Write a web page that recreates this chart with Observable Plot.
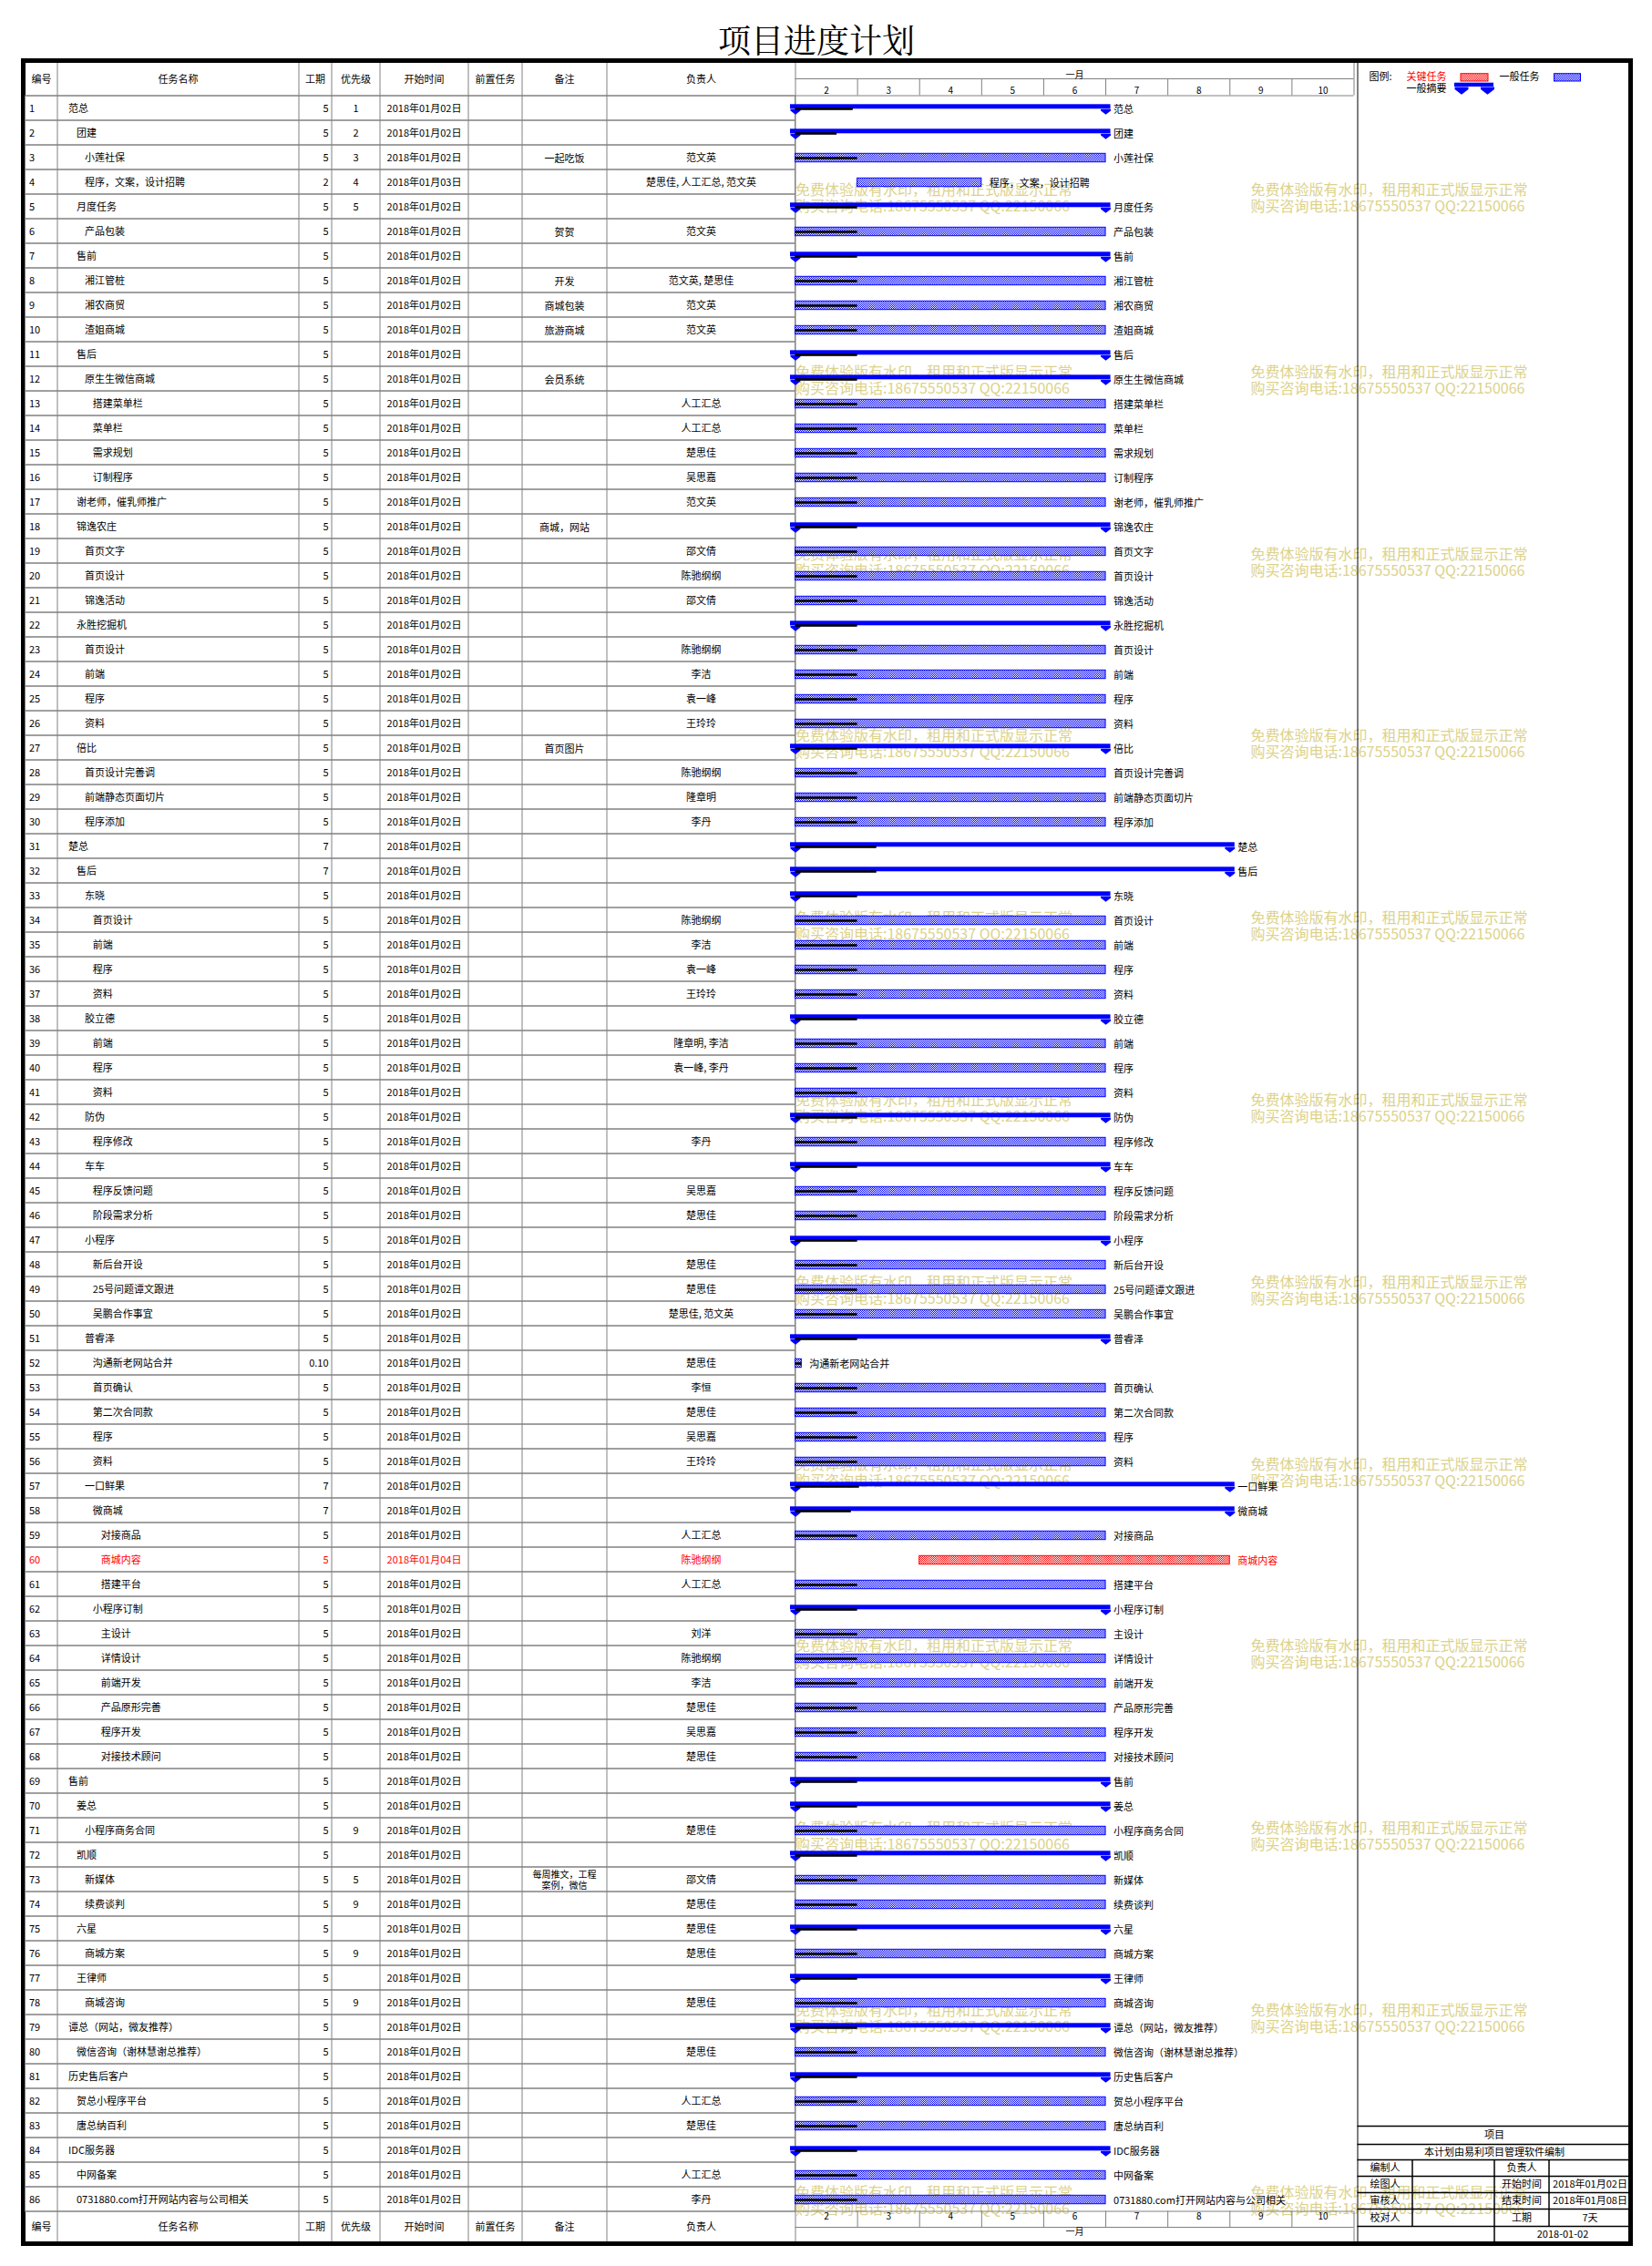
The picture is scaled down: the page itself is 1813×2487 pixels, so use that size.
<!DOCTYPE html>
<html><head><meta charset="utf-8">
<script src="https://cdn.jsdelivr.net/npm/d3@7"></script>
<script src="https://cdn.jsdelivr.net/npm/@observablehq/plot@0.6"></script>
<style>
body{margin:0;background:#fff;}
#page{position:relative;width:1813px;height:2487px;font-family:"Noto Sans CJK SC",sans-serif;}
#title{position:absolute;left:0;top:23px;width:1792px;text-align:center;font-size:36px;line-height:40px;font-family:"Noto Serif CJK SC","Noto Sans CJK SC",serif;color:#000;}
.layer{position:absolute;left:0;top:60px;width:1813px;height:2420px;}
.layer svg{background:transparent !important;max-width:none !important;}
</style></head>
<body><div id="page"><div id="title">项目进度计划</div><div id="base" class="layer"></div><div id="table" class="layer"></div><div id="gantt" class="layer"></div></div>
<script>
// ---------------- DATA ----------------
const taskNames = ["范总","团建","小莲社保","程序，文案，设计招聘","月度任务","产品包装","售前","湘江管桩","湘农商贸","渣姐商城",
"售后","原生生微信商城","搭建菜单栏","菜单栏","需求规划","订制程序","谢老师，催乳师推广","锦逸农庄","首页文字","首页设计",
"锦逸活动","永胜挖掘机","首页设计","前端","程序","资料","倍比","首页设计完善调","前端静态页面切片","程序添加",
"楚总","售后","东晓","首页设计","前端","程序","资料","胶立德","前端","程序",
"资料","防伪","程序修改","车车","程序反馈问题","阶段需求分析","小程序","新后台开设","25号问题谭文跟进","吴鹏合作事宜",
"普睿泽","沟通新老网站合并","首页确认","第二次合同款","程序","资料","一口鲜果","微商城","对接商品","商城内容",
"搭建平台","小程序订制","主设计","详情设计","前端开发","产品原形完善","程序开发","对接技术顾问","售前","姜总",
"小程序商务合同","凯顺","新媒体","续费谈判","六星","商城方案","王律师","商城咨询","谭总（网站，微友推荐）","微信咨询（谢林慧谢总推荐）",
"历史售后客户","贺总小程序平台","唐总纳百利","IDC服务器","中网备案","0731880.com打开网站内容与公司相关"];
const levels = [0,1,2,2,1,2,1,2,2,2, 1,2,3,3,3,3,1,1,2,2, 2,1,2,2,2,2,1,2,2,2, 0,1,2,3,3,3,3,2,3,3,
3,2,3,2,3,3,2,3,3,3, 2,3,3,3,3,3,2,3,4,4, 4,3,4,4,4,4,4,4,0,1, 2,1,2,2,1,2,1,2,0,1, 0,1,1,0,1,1];
const durations = [5,5,5,2,5,5,5,5,5,5, 5,5,5,5,5,5,5,5,5,5, 5,5,5,5,5,5,5,5,5,5, 7,7,5,5,5,5,5,5,5,5,
5,5,5,5,5,5,5,5,5,5, 5,0.1,5,5,5,5,7,7,5,5, 5,5,5,5,5,5,5,5,5,5, 5,5,5,5,5,5,5,5,5,5, 5,5,5,5,5,5];
const priorities = [1,2,3,4,5,"","","","","", "","","","","","","","","","", "","","","","","","","","","",
"","","","","","","","","","", "","","","","","","","","","", "","","","","","","","","","",
"","","","","","","","","","", 9,"",5,9,"",9,"",9,"","", "","","","","",""];
const startMonth = "2018年01月";
const startDays = [2,2,2,3,2,2,2,2,2,2, 2,2,2,2,2,2,2,2,2,2, 2,2,2,2,2,2,2,2,2,2, 2,2,2,2,2,2,2,2,2,2,
2,2,2,2,2,2,2,2,2,2, 2,2,2,2,2,2,2,2,2,4, 2,2,2,2,2,2,2,2,2,2, 2,2,2,2,2,2,2,2,2,2, 2,2,2,2,2,2];
const notes = ["","","一起吃饭","","","贺贺","","开发","商城包装","旅游商城", "","会员系统","","","","","","商城，网站","","",
"","","","","","","首页图片","","","", "","","","","","","","","","", "","","","","","","","","","",
"","","","","","","","","","", "","","","","","","","","","", "","","每周推文，工程\n案例，微信","","","","","","","", "","","","","",""];
const owners = ["","","范文英","楚思佳, 人工汇总, 范文英","","范文英","","范文英, 楚思佳","范文英","范文英",
"","","人工汇总","人工汇总","楚思佳","吴思嘉","范文英","","邵文倩","陈驰纲纲",
"邵文倩","","陈驰纲纲","李洁","袁一峰","王玲玲","","陈驰纲纲","隆章明","李丹",
"","","","陈驰纲纲","李洁","袁一峰","王玲玲","","隆章明, 李洁","袁一峰, 李丹",
"","","李丹","","吴思嘉","楚思佳","","楚思佳","楚思佳","楚思佳, 范文英",
"","楚思佳","李恒","楚思佳","吴思嘉","王玲玲","","","人工汇总","陈驰纲纲",
"人工汇总","","刘洋","陈驰纲纲","李洁","楚思佳","吴思嘉","楚思佳","","",
"楚思佳","","邵文倩","楚思佳","楚思佳","楚思佳","","楚思佳","","楚思佳",
"","人工汇总","楚思佳","","人工汇总","李丹"];
// S = summary, T = task, C = critical task
const kinds = ("SSTTSTSTTT"+"SSTTTTTSTT"+"TSTTTTSTTT"+"SSSTTTTSTT"+"TSTSTTSTTT"+"STTTTTSSTC"+"TSTTTTTTSS"+"TSTTSTSTST"+"STTSTT").split("");
const progressDays = [0.93,0.67,1,0,1,1,1,1,1,1, 1,1,1,1,1,1,1,1,1,1, 1,1,1,1,1,1,1,1,1,1, 1.31,1.31,1,1,1,1,1,1,1,1,
1,1,1,1,1,1,1,1,1,1, 1,0.1,1,1,1,1,1.03,0.9,1,0, 1,1,1,1,1,1,1,1,1,1, 1,1,1,1,1,1,1,1,1,1, 1,1,1,1,1,1];
const columnHeaders = ["编号","任务名称","工期","优先级","开始时间","前置任务","备注","负责人"];
const dayTicks = [2,3,4,5,6,7,8,9,10];
const monthLabel = "一月";
const legendTexts = ["图例:","关键任务","一般任务","一般摘要"];
const infoTitle = "项目", infoSub = "本计划由易利项目管理软件编制";
const infoLabelsA = ["编制人","绘图人","审核人","校对人"];
const infoLabelsB = ["负责人","开始时间","结束时间","工期"];
const infoValues = ["","2018年01月02日","2018年01月08日","7天"];
const infoDate = "2018-01-02";
const watermarkLines = ["免费体验版有水印，租用和正式版显示正常","购买咨询电话:18675550537 QQ:22150066"];

// ---------------- LAYOUT ----------------
const W = 1813, H = 2420;
const FONT = "'Noto Sans CJK SC', sans-serif";
const ROW_TOP = 44.5, ROW_H = 27;
const COL = [27.5, 62.5, 327.5, 363.5, 416.5, 513.5, 572.5, 665.5, 872.5];
const GANTT_RANGE = [872.5, 1485.5];
const TXT = {id: 31.5, name: 74.6, indent: 8.9, dur: 360, prio: 390, start: 465, note: 619, owner: 769};
const GRAY = "#808080", BLUE = "#0000ff", RED = "#ff0000", WM = "#dcd28c";

const rows = taskNames.map((name, i) => ({
  id: i + 1, name, level: levels[i], dur: durations[i], prio: priorities[i],
  note: notes[i], owner: owners[i], kind: kinds[i], progress: progressDays[i],
  start: startDays[i], end: startDays[i] + durations[i]
}));
const ids = rows.map(d => d.id);
const bodyBottom = ROW_TOP + rows.length * ROW_H;
const BODY_H = bodyBottom - ROW_TOP;
const fmtDur = d => (d % 1 ? d.toFixed(2) : String(d));
const fmtDate = d => startMonth + String(d).padStart(2, "0") + "日";
const ink = d => (d.kind === "C" ? RED : "#000000");
const yBand = () => ({type: "band", domain: ids, range: [ROW_TOP, bodyBottom], padding: 0, axis: null});

const capSymbol = (w, h) => ({draw(ctx) {
  ctx.moveTo(-w / 2, 0); ctx.lineTo(w / 2, 0); ctx.lineTo(w / 2, h * 0.3);
  ctx.lineTo(0, h); ctx.lineTo(-w / 2, h * 0.3); ctx.closePath();
}});

// ---------------- BASE LAYER (frame, grid, legend, info, watermark) ----------------
const colMids = columnHeaders.map((t, i) => ({t, x: (COL[i] + COL[i + 1]) / 2}));
const wm = [];
for (let k = 0; k < 12; k++) for (const x of [872.5, 1372]) {
  wm.push({x, y: 148.3 + k * 199.8, t: watermarkLines[0]});
  wm.push({x, y: 166.3 + k * 199.8, t: watermarkLines[1]});
}
const INFO_X = [1489.5, 1549.5, 1639.5, 1699.5, 1789.5];
const INFO_Y = [2273, 2293, 2310, 2328, 2346, 2364, 2383, 2400];
const infoCells = [];
infoCells.push({t: infoTitle, x: (INFO_X[0] + INFO_X[4]) / 2, y: (INFO_Y[0] + INFO_Y[1]) / 2});
infoCells.push({t: infoSub, x: (INFO_X[0] + INFO_X[4]) / 2, y: (INFO_Y[1] + INFO_Y[2]) / 2});
infoLabelsA.forEach((t, r) => {
  const y = (INFO_Y[2 + r] + INFO_Y[3 + r]) / 2;
  infoCells.push({t, x: (INFO_X[0] + INFO_X[1]) / 2, y});
  infoCells.push({t: infoLabelsB[r], x: (INFO_X[2] + INFO_X[3]) / 2, y});
  infoCells.push({t: infoValues[r], x: (INFO_X[3] + INFO_X[4]) / 2, y});
});
infoCells.push({t: infoDate, x: (INFO_X[2] + INFO_X[4]) / 2, y: (INFO_Y[6] + INFO_Y[7]) / 2});

const base = Plot.plot({
  width: W, height: H, margin: 0,
  x: {domain: [0, W], range: [0, W], axis: null},
  y: {domain: [0, H], range: [0, H], axis: null},
  color: {type: "identity"},
  style: {fontFamily: FONT, background: "transparent"},
  marks: [
    Plot.text(wm, {x: "x", y: "y", text: "t", textAnchor: "start", fontSize: 16, fill: WM}),
    // grid
    Plot.ruleX(COL.slice(1), {y1: 9, y2: 2400, stroke: GRAY}),
    Plot.ruleY([26, 2384], {x1: GANTT_RANGE[0], x2: GANTT_RANGE[1], stroke: GRAY}),
    Plot.ruleY([ROW_TOP, bodyBottom], {x1: COL[0], x2: GANTT_RANGE[1], stroke: GRAY}),
    Plot.ruleX([GANTT_RANGE[1]], {y1: 9, y2: ROW_TOP, stroke: GRAY}),
    Plot.ruleX([GANTT_RANGE[1]], {y1: bodyBottom, y2: 2400, stroke: GRAY}),
    Plot.ruleX([1489.5], {y1: 9, y2: 2400, stroke: "#000"}),
    // table header / footer
    Plot.text(colMids, {x: "x", y: 26.5, text: "t", fontSize: 11}),
    Plot.text(colMids, {x: "x", y: 2383.5, text: "t", fontSize: 11}),
    // legend
    Plot.text([legendTexts[0]], {x: 1502, y: 24.3, text: d => d, textAnchor: "start", fontSize: 11}),
    Plot.text([legendTexts[1]], {x: 1543, y: 24.3, text: d => d, textAnchor: "start", fontSize: 11, fill: RED}),
    Plot.text([legendTexts[2]], {x: 1645, y: 24.3, text: d => d, textAnchor: "start", fontSize: 11}),
    Plot.text([legendTexts[3]], {x: 1543, y: 36.7, text: d => d, textAnchor: "start", fontSize: 11}),
    Plot.rect([0], {x1: 1603, x2: 1633, y1: 20.7, y2: 29, fill: "url(#redPat)", stroke: RED}),
    Plot.rect([0], {x1: 1705.5, x2: 1734.5, y1: 20.7, y2: 29, fill: "url(#bluePat)", stroke: BLUE}),
    Plot.rect([0], {x1: 1596, x2: 1639, y1: 30.7, y2: 35, fill: BLUE}),
    Plot.dot([1603.5, 1632], {x: d => d, y: 35, symbol: capSymbol(15, 8.3), fill: BLUE, stroke: "none"}),
    // info panel
    Plot.ruleY(INFO_Y.slice(0, 7), {x1: INFO_X[0], x2: INFO_X[4], stroke: "#000", strokeWidth: 1.5}),
    Plot.ruleX([INFO_X[1], INFO_X[3]], {y1: INFO_Y[2], y2: INFO_Y[6], stroke: "#000", strokeWidth: 1.5}),
    Plot.ruleX([INFO_X[2]], {y1: INFO_Y[2], y2: INFO_Y[7], stroke: "#000", strokeWidth: 1.5}),
    Plot.text(infoCells, {x: "x", y: "y", text: "t", fontSize: 11}),
    // outer frame
    Plot.rect([0], {x1: 25.5, x2: 1789.5, y1: 6.5, y2: 2402.5, fill: "none", stroke: "#000", strokeWidth: 5})
  ]
});
// fill patterns (dithered blue / red)
const defs = d3.select(base).insert("defs", ":first-child");
[["bluePat", BLUE], ["redPat", RED]].forEach(([id, c]) => {
  const p = defs.append("pattern").attr("id", id).attr("width", 2).attr("height", 2).attr("patternUnits", "userSpaceOnUse");
  p.append("rect").attr("width", 2).attr("height", 2).attr("fill", "#fff");
  p.append("rect").attr("width", 1).attr("height", 1).attr("fill", c);
  p.append("rect").attr("x", 1).attr("y", 1).attr("width", 1).attr("height", 1).attr("fill", c);
});
document.getElementById("base").append(base);

// ---------------- TABLE LAYER ----------------
const table = Plot.plot({
  width: W, height: H, marginTop: ROW_TOP, marginBottom: H - bodyBottom, marginLeft: 0, marginRight: 0,
  x: {domain: [0, W], range: [0, W], axis: null},
  y: yBand(),
  color: {type: "identity"},
  style: {fontFamily: FONT, background: "transparent"},
  marks: [
    Plot.barX(rows, {x1: COL[0], x2: COL[8], y: "id", fill: "none", stroke: GRAY}),
    Plot.text(rows, {x: TXT.id, y: "id", text: d => String(d.id), textAnchor: "start", fontSize: 11, fill: ink, dy: 0.5}),
    Plot.text(rows, {x: d => TXT.name + d.level * TXT.indent, y: "id", text: "name", textAnchor: "start", fontSize: 11, fill: ink, dy: 0.5}),
    Plot.text(rows, {x: TXT.dur, y: "id", text: d => fmtDur(d.dur), textAnchor: "end", fontSize: 11, fill: ink, dy: 0.5}),
    Plot.text(rows.filter(d => d.prio !== ""), {x: TXT.prio, y: "id", text: d => String(d.prio), fontSize: 11, fill: ink, dy: 0.5}),
    Plot.text(rows, {x: TXT.start, y: "id", text: d => fmtDate(d.start), fontSize: 11, fill: ink, dy: 0.5}),
    Plot.text(rows.filter(d => d.note), {x: TXT.note, y: "id", text: "note", fontSize: d => (d.note.includes("\n") ? 10 : 11), lineHeight: 1.2, fill: ink, dy: 0.5}),
    Plot.text(rows.filter(d => d.owner), {x: TXT.owner, y: "id", text: "owner", fontSize: 11, fill: ink, dy: 0.5})
  ]
});
document.getElementById("table").append(table);

// ---------------- GANTT LAYER ----------------
const summaries = rows.filter(d => d.kind === "S");
const tasks = rows.filter(d => d.kind === "T");
const critical = rows.filter(d => d.kind === "C");
const caps = summaries.flatMap(d => [{id: d.id, x: d.start}, {id: d.id, x: d.end}]);
const gantt = Plot.plot({
  width: W, height: H, marginTop: ROW_TOP, marginBottom: H - bodyBottom, marginLeft: 0, marginRight: 0,
  x: {domain: [dayTicks[0], dayTicks[dayTicks.length - 1] + 1], range: GANTT_RANGE, axis: null},
  y: yBand(),
  color: {type: "identity"},
  style: {fontFamily: FONT, background: "transparent"},
  marks: [
    // timescale header / footer
    Plot.ruleX(dayTicks.slice(1), {stroke: GRAY, insetTop: -(ROW_TOP - 26), insetBottom: BODY_H}),
    Plot.ruleX(dayTicks.slice(1), {stroke: GRAY, insetTop: BODY_H, insetBottom: -(2384 - bodyBottom)}),
    Plot.text([monthLabel], {x: (dayTicks[0] + dayTicks[dayTicks.length - 1] + 1) / 2, text: d => d, frameAnchor: "top", dy: 18 - ROW_TOP, fontSize: 10}),
    Plot.text(dayTicks, {x: d => d + 0.5, text: d => String(d), frameAnchor: "top", dy: 35 - ROW_TOP, fontSize: 10}),
    Plot.text(dayTicks, {x: d => d + 0.5, text: d => String(d), frameAnchor: "bottom", dy: 2375 - bodyBottom, fontSize: 10}),
    Plot.text([monthLabel], {x: (dayTicks[0] + dayTicks[dayTicks.length - 1] + 1) / 2, text: d => d, frameAnchor: "bottom", dy: 2392.5 - bodyBottom, fontSize: 10}),
    // bars
    Plot.barX(tasks, {x1: "start", x2: "end", y: "id", insetTop: 9.3, insetBottom: 8.3, fill: "url(#bluePat)", stroke: BLUE}),
    Plot.barX(critical, {x1: "start", x2: "end", y: "id", insetTop: 9.3, insetBottom: 8.3, fill: "url(#redPat)", stroke: RED}),
    Plot.barX(summaries, {x1: "start", x2: "end", y: "id", insetTop: 9.3, insetBottom: 12.7, insetLeft: -5.5, insetRight: -5.5, fill: BLUE}),
    Plot.dot(caps, {x: "x", y: "id", symbol: capSymbol(11, 6), fill: BLUE, stroke: "none", dy: 0.8}),
    Plot.barX(rows.filter(d => d.progress > 0), {x1: "start", x2: d => d.start + d.progress, y: "id", insetTop: 13.2, insetBottom: 11.2, fill: "#000"}),
    Plot.text(rows, {x: "end", y: "id", text: "name", dx: 8.5, dy: 1.5, textAnchor: "start", fontSize: 11, fill: ink})
  ]
});
document.getElementById("gantt").append(gantt);
</script>
</body></html>
